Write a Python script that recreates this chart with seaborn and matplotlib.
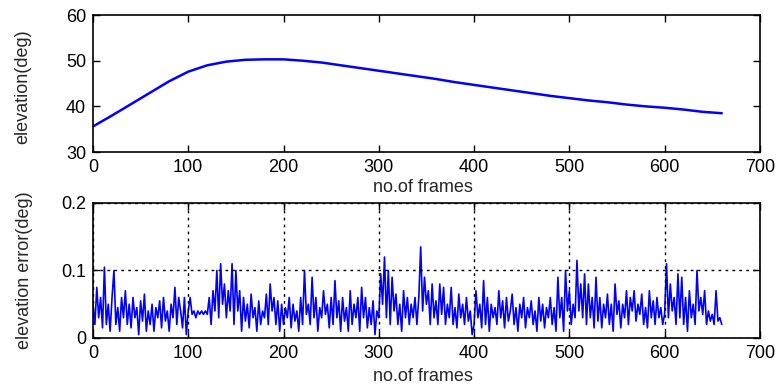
import numpy as np
import pandas as pd
import matplotlib
matplotlib.use("Agg")
import matplotlib.pyplot as plt
import seaborn as sns

# elevation curve, read every 20 frames
elev_frames = [0, 20, 40, 60, 80, 100, 120, 140, 160, 180, 200, 220, 240, 260,
               280, 300, 320, 340, 360, 380, 400, 420, 440, 460, 480, 500, 520,
               540, 560, 580, 600, 620, 640, 660]
elevation = [35.6, 38.0, 40.5, 43.0, 45.5, 47.6, 49.0, 49.8, 50.2, 50.3, 50.3,
             50.0, 49.6, 49.0, 48.4, 47.8, 47.2, 46.6, 46.0, 45.3, 44.7, 44.1,
             43.5, 42.9, 42.3, 41.8, 41.3, 40.9, 40.4, 40.0, 39.7, 39.3, 38.8,
             38.5]

# elevation error, read every 2 frames
err_frames = list(range(0, 661, 2))
elev_error = [
    0.05, 0.02, 0.075, 0.03, 0.06, 0.015, 0.105, 0.02, 0.05, 0.01,
    0.06, 0.1, 0.02, 0.045, 0.01, 0.06, 0.03, 0.07, 0.02, 0.05,
    0.015, 0.06, 0.03, 0.045, 0.005, 0.055, 0.025, 0.065, 0.01, 0.04,
    0.02, 0.05, 0.01, 0.045, 0.03, 0.055, 0.015, 0.06, 0.025, 0.04,
    0.01, 0.05, 0.03, 0.075, 0.02, 0.06, 0.04, 0.015, 0.06, 0.005,
    0.04, 0.06, 0.035, 0.04, 0.03, 0.04, 0.035, 0.04, 0.035, 0.04,
    0.035, 0.06, 0.02, 0.07, 0.04, 0.1, 0.03, 0.11, 0.05, 0.08,
    0.03, 0.07, 0.04, 0.11, 0.02, 0.1, 0.04, 0.07, 0.01, 0.06,
    0.025, 0.05, 0.015, 0.065, 0.03, 0.045, 0.01, 0.055, 0.02, 0.04,
    0.03, 0.065, 0.02, 0.08, 0.04, 0.06, 0.02, 0.055, 0.01, 0.05,
    0.02, 0.045, 0.03, 0.06, 0.015, 0.05, 0.025, 0.04, 0.01, 0.06,
    0.02, 0.1, 0.035, 0.05, 0.02, 0.09, 0.03, 0.06, 0.01, 0.045,
    0.03, 0.07, 0.035, 0.05, 0.015, 0.06, 0.02, 0.085, 0.03, 0.055,
    0.01, 0.06, 0.025, 0.045, 0.01, 0.07, 0.02, 0.05, 0.03, 0.06,
    0.01, 0.075, 0.03, 0.06, 0.015, 0.045, 0.02, 0.055, 0.005, 0.04,
    0.03, 0.095, 0.05, 0.12, 0.03, 0.1, 0.02, 0.09, 0.04, 0.065,
    0.02, 0.05, 0.01, 0.07, 0.03, 0.06, 0.02, 0.05, 0.03, 0.06,
    0.02, 0.06, 0.135, 0.04, 0.09, 0.05, 0.07, 0.02, 0.08, 0.03,
    0.055, 0.02, 0.08, 0.035, 0.075, 0.02, 0.05, 0.03, 0.075, 0.02,
    0.045, 0.015, 0.065, 0.03, 0.05, 0.02, 0.06, 0.025, 0.04, 0.005,
    0.02, 0.07, 0.03, 0.05, 0.015, 0.085, 0.02, 0.06, 0.01, 0.05,
    0.03, 0.045, 0.02, 0.07, 0.03, 0.055, 0.015, 0.06, 0.025, 0.04,
    0.065, 0.02, 0.045, 0.01, 0.05, 0.03, 0.06, 0.015, 0.045, 0.03,
    0.055, 0.02, 0.04, 0.01, 0.06, 0.025, 0.05, 0.015, 0.045, 0.03,
    0.06, 0.02, 0.045, 0.01, 0.09, 0.03, 0.06, 0.01, 0.1, 0.04,
    0.07, 0.02, 0.05, 0.03, 0.115, 0.04, 0.08, 0.03, 0.095, 0.02,
    0.08, 0.03, 0.06, 0.015, 0.09, 0.025, 0.06, 0.015, 0.05, 0.03,
    0.065, 0.02, 0.05, 0.01, 0.08, 0.035, 0.055, 0.015, 0.05, 0.03,
    0.07, 0.02, 0.06, 0.04, 0.07, 0.025, 0.05, 0.035, 0.065, 0.02,
    0.045, 0.015, 0.07, 0.03, 0.055, 0.02, 0.06, 0.03, 0.045, 0.02,
    0.035, 0.11, 0.03, 0.08, 0.04, 0.06, 0.02, 0.095, 0.03, 0.09,
    0.02, 0.06, 0.01, 0.07, 0.03, 0.05, 0.02, 0.1, 0.04, 0.06,
    0.035, 0.07, 0.02, 0.04, 0.025, 0.035, 0.02, 0.07, 0.025, 0.03,
    0.02,
]

x_ticks = [0, 100, 200, 300, 400, 500, 600, 700]

sns.set_style("ticks")
plt.rcParams['font.family'] = ['Liberation Sans', 'DejaVu Sans']

fig = plt.figure(figsize=(7.8, 3.88), dpi=100)
ax1 = fig.add_axes([0.1192, 0.6082, 0.855, 0.353])
ax2 = fig.add_axes([0.1192, 0.1289, 0.855, 0.348])

top_df = pd.DataFrame({"frame": elev_frames, "elevation": elevation})
bot_df = pd.DataFrame({"frame": err_frames, "error": elev_error})

sns.lineplot(data=top_df, x="frame", y="elevation", ax=ax1,
             color="#0000ff", linewidth=1.8)
sns.lineplot(data=bot_df, x="frame", y="error", ax=ax2,
             color="#0000ff", linewidth=1.2)

ax1.set_xlim(0, 700)
ax1.set_ylim(30, 60)
ax1.set_yticks([30, 40, 50, 60])
ax2.set_xlim(0, 700)
ax2.set_ylim(0, 0.2)
ax2.set_yticks([0, 0.1, 0.2])
ax2.set_yticklabels(["0", "0.1", "0.2"])

for ax in (ax1, ax2):
    ax.set_xticks(x_ticks)
    ax.tick_params(direction="in", length=5, width=1, top=True, right=True,
                   labelsize=13, pad=5, colors="black")
    for sp in ax.spines.values():
        sp.set_visible(True)
        sp.set_color("black")
        sp.set_linewidth(1.2)
    ax.set_xlabel("no.of frames", fontsize=13)

ax2.grid(True, color="black", linestyle=(0, (2, 3)), linewidth=1.0)
ax2.set_axisbelow(False)

ax1.set_ylabel("elevation(deg)", fontsize=13)
ax2.set_ylabel("elevation error(deg)", fontsize=13)

ax1.xaxis.set_label_coords(0.495, -0.2)
ax2.xaxis.set_label_coords(0.495, -0.22)
ax1.yaxis.set_label_coords(-0.092, 0.48)
ax2.yaxis.set_label_coords(-0.09, 0.5)

fig.savefig("out.png", dpi=100)
